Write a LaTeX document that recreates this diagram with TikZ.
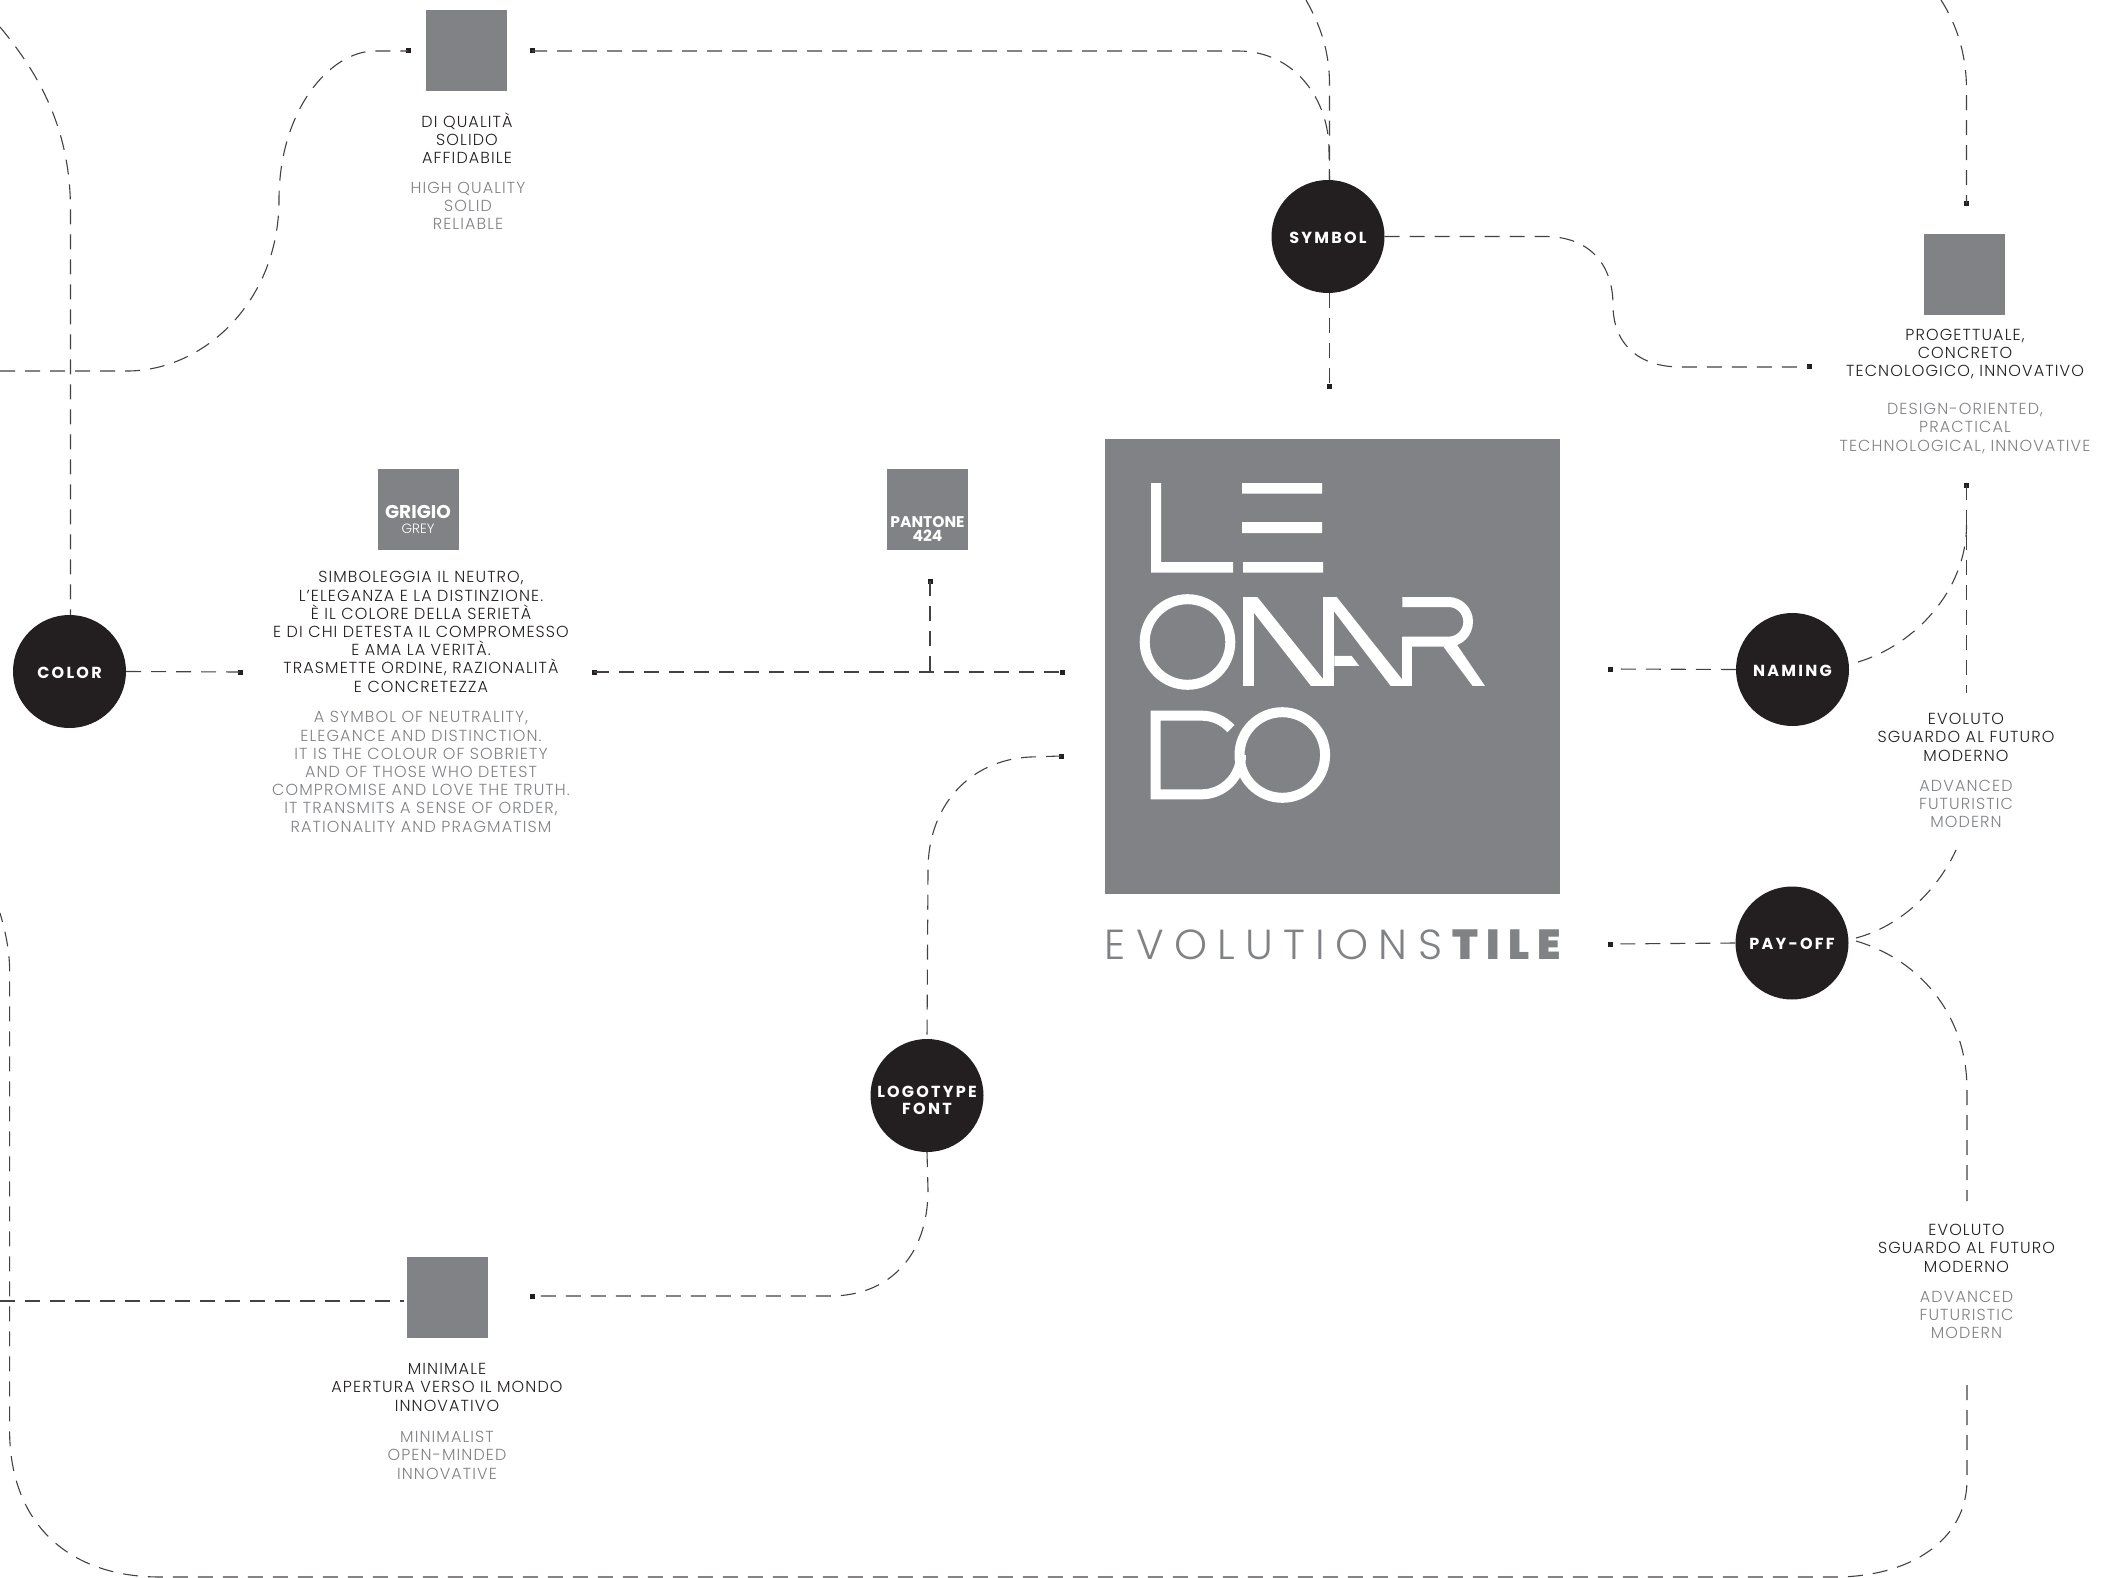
\documentclass[tikz,border=0pt]{standalone}
\usepackage{fontspec}
\setmainfont{Poppins Light}
\newfontfamily\fbd{Poppins}[BoldFont={Poppins Bold}]
\newfontfamily\fbk{Poppins Black}
\definecolor{lgrey}{HTML}{808285}
\definecolor{ink}{HTML}{231F20}
\tikzset{
  flow/.style={draw=ink!85,line width=1.1pt,dash pattern=on 15pt off 10pt},
  hub/.style={circle,fill=ink,inner sep=0pt,minimum size=113pt,text=white,align=center,
    font=\fbd\bfseries\fontsize{16}{17.6}\addfontfeature{LetterSpace=14}\selectfont},
  hublabel/.style={inner sep=0pt,text=white,align=center,
    font=\fbd\bfseries\fontsize{16}{17.6}\addfontfeature{LetterSpace=14}\selectfont},
  swatch/.style={rectangle,fill=lgrey,inner sep=0pt,minimum size=81pt,text=white,align=center},
  pin/.style={rectangle,fill=ink,inner sep=0pt,minimum size=5pt},
  itx/.style={anchor=base,inner sep=0pt,align=center,text=ink,
    font=\fontsize{16}{18.2}\addfontfeature{LetterSpace=7}\selectfont},
  etx/.style={anchor=base,inner sep=0pt,align=center,text=lgrey,
    font=\fontsize{16}{18.2}\addfontfeature{LetterSpace=7}\selectfont},
  logopart/.style={fill=white,draw=none},
}
\begin{document}
\begin{tikzpicture}[x=1pt,y=-1pt]
\useasboundingbox (0,0) rectangle (2128,1578);
% hubs
\node[hub] (symbol) at (1328,236.5) {};
\node[hublabel] (symbolT) at (1328,237.5) {SYMBOL};
\node[hub] (color) at (69.5,671.5) {};
\node[hublabel] (colorT) at (69.5,672.5) {COLOR};
\node[hub] (naming) at (1792.5,669.5) {};
\node[hublabel] (namingT) at (1792.5,670.5) {NAMING};
\node[hub] (payoff) at (1792,943) {};
\node[hublabel] (payoffT) at (1792,944) {PAY-OFF};
\node[hub] (logotype) at (927,1095.5) {};
\node[hublabel] (logotypeT) at (927,1100.5) {LOGOTYPE\\FONT};
% swatches
\node[swatch] (s1) at (466.5,51) {};
\node[swatch] (s2) at (1964.5,274.5) {};
\node[swatch] (s3) at (447.5,1297.5) {};
\node[swatch] (grigio) at (418.5,509.5) {};
\node[swatch] (pantone) at (927.5,509.5) {};
\node[anchor=base,inner sep=0pt,text=white,font=\fbd\bfseries\fontsize{18.5}{19}\selectfont] (grigioT) at (418,518) {GRIGIO};
\node[anchor=base,inner sep=0pt,text=white,font=\fontsize{13.5}{14}\selectfont] (greyT) at (418,533) {GREY};
\node[anchor=base,inner sep=0pt,align=center,text=white,font=\fbd\bfseries\fontsize{15.5}{14}\selectfont] (pantoneT) at (927.5,541.5) {PANTONE\\424};
% logo
\node[rectangle,fill=lgrey,inner sep=0pt,minimum width=455pt,minimum height=455pt] (logo) at (1332.5,666) {};
\fill[logopart] (1151,483) rectangle (1161,572.5) (1151,562) rectangle (1233,572.5);
\fill[logopart] (1242,483) rectangle (1322,493.6) (1242,522) rectangle (1322,533) (1243,562) rectangle (1323,572.5);
\draw[white,line width=10pt] (1187.5,642) circle[radius=42.8];
\draw[white,line width=10pt] (1282.3,755) circle[radius=42.8];
\begin{scope}[shift={(1230,585)},x=0.3333pt,y=-0.3333pt]
 \fill[logopart] (40,36) rectangle (73,303);
 \fill[logopart] (40,36) -- (82,36) -- (279,282) -- (279,303) -- (243,303) -- (73,85) -- (40,45) -- cycle;
 \fill[logopart] (279,36) rectangle (313,303);
 \fill[logopart] (279,36) -- (320,36) -- (517,284) -- (520,303) -- (482,303) -- (313,80) -- cycle;
 \fill[logopart] (313,213) -- (365,213) -- (388,243) -- (313,243) -- cycle;
 \fill[logopart] (517,155) rectangle (547,303);
 \fill[logopart] (517,36) -- (655,36) .. controls (696,36) and (729,69) .. (729,110) .. controls (729,152) and (696,185) .. (655,185) -- (517,185) -- (517,155) -- (655,155) .. controls (680,155) and (700,135) .. (700,110) .. controls (700,86) and (680,66) .. (655,66) -- (517,66) -- cycle;
 \fill[logopart] (640,185) -- (680,178) -- (765,303) -- (728,303) -- cycle;
\end{scope}
\begin{scope}[shift={(1140,700)},x=0.3333pt,y=-0.3333pt]
 \draw[white,line width=10pt,line join=miter] (272.7,86) .. controls (250.3,61.2) and (218.4,47) .. (185,47) -- (47,47) -- (47,283) -- (185,283) .. controls (250.2,283) and (303,230) .. (303,165);
\end{scope}
\node[anchor=base west,inner sep=0pt,text=lgrey,font=\fontsize{42}{44}\selectfont] (tagline) at (1104.5,959) {\addfontfeature{LetterSpace=24.5}EVOLUTIONS\kern 10pt{\fbk\addfontfeature{LetterSpace=20}TILE}};
% texts
\node[itx] (t1) at (467,164) {DI QUALITÀ\\SOLIDO\\AFFIDABILE};
\node[etx] (e1) at (468,230) {HIGH QUALITY\\SOLID\\RELIABLE};
\node[itx] (t2) at (1965,377) {PROGETTUALE,\\CONCRETO\\TECNOLOGICO, INNOVATIVO};
\node[etx] (e2) at (1965,451) {DESIGN-ORIENTED,\\PRACTICAL\\TECHNOLOGICAL, INNOVATIVE};
\node[itx] (t3) at (421,692) {SIMBOLEGGIA IL NEUTRO,\\L'ELEGANZA E LA DISTINZIONE.\\È IL COLORE DELLA SERIETÀ\\E DI CHI DETESTA IL COMPROMESSO\\E AMA LA VERITÀ.\\TRASMETTE ORDINE, RAZIONALITÀ\\E CONCRETEZZA};
\node[etx] (e3) at (421,832) {A SYMBOL OF NEUTRALITY,\\ELEGANCE AND DISTINCTION.\\IT IS THE COLOUR OF SOBRIETY\\AND OF THOSE WHO DETEST\\COMPROMISE AND LOVE THE TRUTH.\\IT TRANSMITS A SENSE OF ORDER,\\RATIONALITY AND PRAGMATISM};
\node[itx] (t4) at (1966,761) {EVOLUTO\\SGUARDO AL FUTURO\\MODERNO};
\node[etx] (e4) at (1966,827.5) {ADVANCED\\FUTURISTIC\\MODERN};
\node[itx] (t5) at (1966.5,1272) {EVOLUTO\\SGUARDO AL FUTURO\\MODERNO};
\node[etx] (e5) at (1966.5,1338.5) {ADVANCED\\FUTURISTIC\\MODERN};
\node[itx] (t6) at (447,1411) {MINIMALE\\APERTURA VERSO IL MONDO\\INNOVATIVO};
\node[etx] (e6) at (447,1479) {MINIMALIST\\OPEN-MINDED\\INNOVATIVE};
% pins
\node[pin] (p1) at (408,51) {};
\node[pin] (p2) at (532,51) {};
\node[pin] (p3) at (1329.5,387) {};
\node[pin] (p4) at (1809,367) {};
\node[pin] (p5) at (1966.5,204) {};
\node[pin] (p6) at (1966.5,485) {};
\node[pin] (p7) at (240,672) {};
\node[pin] (p8) at (594,672) {};
\node[pin] (p9) at (1062,672) {};
\node[pin] (p10) at (930,581) {};
\node[pin] (p11) at (1061,756) {};
\node[pin] (p12) at (532,1296) {};
\node[pin] (p13) at (1610,669) {};
\node[pin] (p14) at (1610,944) {};
% free ends
\coordinate (a0) at (0,27);
\coordinate (a1) at (70.5,615);
\coordinate (b0) at (0,371);
\coordinate (c0) at (1306,0);
\coordinate (c1) at (1329.5,180);
\coordinate (c2) at (1329.5,293);
\coordinate (d0) at (1941,0);
\coordinate (j0) at (930,672);
\coordinate (k0) at (0,1301);
\coordinate (k1) at (404,1301);
\coordinate (v1) at (1966.5,692.5);
\coordinate (n0) at (1858,662);
\coordinate (q0) at (1856,938);
\coordinate (q1) at (1956,850);
\coordinate (r0) at (1856,941);
\coordinate (r1) at (1967,1201);
\coordinate (u0) at (1967,1385);
\coordinate (u1) at (0,913);
% connectors
\draw[flow] (a0) .. controls (40,75) and (70.5,130) .. (70.5,210) -- (a1);
\draw[flow] (b0) -- (127,371) .. controls (205,371) and (279,300) .. (279,200) .. controls (279,110) and (330,51) .. (375,51) -- (p1.center);
\draw[flow] (p2.center) -- (1238,51) .. controls (1295,51) and (1329,100) .. (1329,150) -- (c1);
\draw[flow] (c0) .. controls (1320,25) and (1329.5,50) .. (1329.5,85) -- (c1);
\draw[flow] (c2) -- (p3.center);
\draw[flow] (symbol.east) -- (1545,236.5) .. controls (1590,236.5) and (1613,265) .. (1613,305) .. controls (1613,345) and (1640,367) .. (1680,367) -- (p4.center);
\draw[flow] (d0) .. controls (1957,25) and (1966.5,55) .. (1966.5,90) -- (p5.center);
\draw[flow] (color.east) -- (p7.center);
\draw[flow] (p8.center) -- (p9.center);
\draw[flow] (p10.center) -- (j0);
\draw[flow] (p11.center) -- (1030,757) .. controls (970,760) and (928,805) .. (928,870) -- (logotype.north);
\draw[flow] (logotype.south) -- (928,1190) .. controls (928,1255) and (890,1296) .. (830,1296) -- (p12.center);
\draw[flow] (k0) -- (k1);
\draw[flow] (naming.west) -- (p13.center);
\draw[flow] (payoff.west) -- (p14.center);
\draw[flow] (p6.center) -- (v1);
\draw[flow] (n0) .. controls (1915,645) and (1966.5,590) .. (1966.5,525);
\draw[flow] (q0) .. controls (1905,925) and (1940,885) .. (q1);
\draw[flow] (r0) .. controls (1920,960) and (1967,1015) .. (1967,1090) -- (r1);
\draw[flow] (u0) -- (1967,1480) .. controls (1967,1540) and (1910,1577) .. (1835,1577) -- (160,1577) .. controls (70,1577) and (9.6,1525) .. (9.6,1430) -- (9.6,970) .. controls (9.6,950) and (5,930) .. (u1);
\end{tikzpicture}
\end{document}
